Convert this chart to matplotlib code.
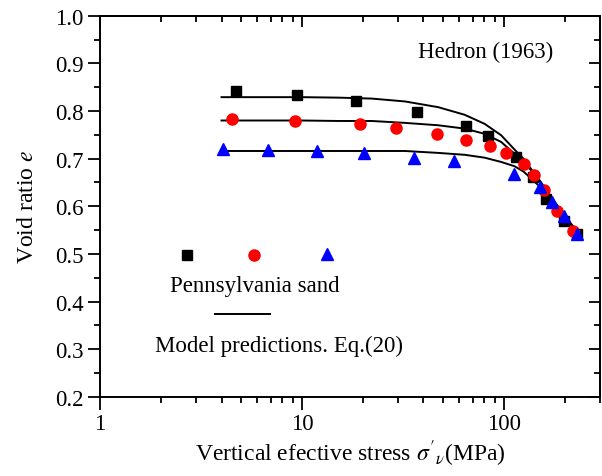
import numpy as np
import matplotlib.pyplot as plt
from matplotlib.ticker import LogLocator, NullFormatter, FormatStrFormatter, MultipleLocator

plt.rcParams["font.family"] = ["Liberation Serif", "DejaVu Serif"]
plt.rcParams["mathtext.fontset"] = "stix"

# measured data (Hedron 1963, Pennsylvania sand)
sq_x = [4.7, 9.5, 18.6, 37.0, 65.2, 83.4, 115, 139, 161.5, 199, 231.5]
sq_y = [0.841, 0.833, 0.820, 0.798, 0.768, 0.747, 0.703, 0.661, 0.616, 0.570, 0.542]

ci_x = [4.5, 9.2, 19.3, 29.2, 46.8, 64.7, 85.7, 102.6, 126.4, 141.6, 158.5, 183, 219]
ci_y = [0.784, 0.780, 0.773, 0.765, 0.752, 0.739, 0.726, 0.712, 0.689, 0.665, 0.635, 0.591, 0.549]

tr_x = [4.05, 6.8, 11.9, 20.4, 36.0, 56.7, 112, 151.6, 174, 197.5, 231.5]
tr_y = [0.721, 0.719, 0.716, 0.712, 0.701, 0.694, 0.668, 0.640, 0.609, 0.579, 0.542]

# model predictions
m_x = [4.0, 10, 15.2, 22.2, 32.4, 47.3, 64, 80.3, 97, 113, 125, 136, 150, 165, 180, 199, 215, 235]
m1_y = [0.829, 0.829, 0.828, 0.826, 0.820, 0.808, 0.792, 0.773, 0.749, 0.719, 0.700, 0.679,
        0.655, 0.630, 0.607, 0.583, 0.563, 0.542]
m2_y = [0.780, 0.780, 0.779, 0.779, 0.775, 0.770, 0.763, 0.752, 0.735, 0.710, 0.694, 0.676,
        0.653, 0.629, 0.606, 0.583, 0.563, 0.542]
m3_y = [0.716, 0.716, 0.716, 0.716, 0.716, 0.712, 0.708, 0.702, 0.693, 0.684, 0.673, 0.659,
        0.642, 0.623, 0.602, 0.581, 0.561, 0.540]

fig = plt.figure(figsize=(6.02, 4.77), dpi=100)
ax = fig.add_axes([0.166, 0.166, 0.831, 0.799])

for my in (m1_y, m2_y, m3_y):
    ax.plot(m_x, my, color="black", lw=1.4, zorder=2)

ax.plot(sq_x, sq_y, "s", color="black", ms=7.5, zorder=3)
ax.plot(ci_x, ci_y, "o", color="red", mec="red", ms=8, zorder=3)
ax.plot(tr_x, tr_y, "^", color="blue", mec="blue", ms=9, zorder=3)

ax.set_xscale("log")
ax.set_xlim(1, 300)
ax.set_ylim(0.2, 1.0)
ax.set_yticks(np.arange(0.2, 1.01, 0.1))
ax.yaxis.set_minor_locator(MultipleLocator(0.05))
ax.yaxis.set_major_formatter(FormatStrFormatter("%.1f"))
ax.set_xticks([1, 10, 100])
ax.set_xticklabels(["1", "10", "100"])
ax.xaxis.set_minor_locator(LogLocator(base=10, subs=range(2, 10)))
ax.xaxis.set_minor_formatter(NullFormatter())

ax.tick_params(which="both", direction="out", labelsize=16.5, width=1.3)
ax.tick_params(which="major", length=9, pad=3)
ax.tick_params(which="minor", length=4)

# inward ticks on top and right
top = ax.secondary_xaxis("top")
top.set_xticks([1, 10, 100])
top.xaxis.set_minor_locator(LogLocator(base=10, subs=range(2, 10)))
top.xaxis.set_minor_formatter(NullFormatter())
top.tick_params(which="both", direction="in", labeltop=False, width=1.3)
top.tick_params(which="major", length=8)
top.tick_params(which="minor", length=4)

right = ax.secondary_yaxis("right")
right.set_yticks(np.arange(0.2, 1.01, 0.1))
right.yaxis.set_minor_locator(MultipleLocator(0.05))
right.tick_params(which="both", direction="in", labelright=False, width=1.3)
right.tick_params(which="major", length=8)
right.tick_params(which="minor", length=4)

for a in (ax, top, right):
    for s in a.spines.values():
        s.set_linewidth(1.4)

ax.set_xlabel(r"Vertical efective stress $\sigma'_{\nu}$(MPa)", fontsize=17, labelpad=2)
ax.set_ylabel(r"Void ratio $e$", fontsize=17, labelpad=12)

ax.text(0.77, 0.906, "Hedron (1963)", transform=ax.transAxes, ha="center", va="center", fontsize=16.5)

# key
ax.plot([0.174], [0.373], "s", color="black", ms=7.5, transform=ax.transAxes)
ax.plot([0.308], [0.373], "o", color="red", ms=8, transform=ax.transAxes)
ax.plot([0.453], [0.374], "^", color="blue", ms=9, transform=ax.transAxes)
ax.text(0.31, 0.291, "Pennsylvania sand", transform=ax.transAxes, ha="center", va="center", fontsize=16.5)
ax.plot([0.23, 0.34], [0.216, 0.216], color="black", lw=1.4, transform=ax.transAxes)
ax.text(0.358, 0.134, "Model predictions. Eq.(20)", transform=ax.transAxes, ha="center", va="center", fontsize=16.5)

fig.savefig("out.png", dpi=100)
